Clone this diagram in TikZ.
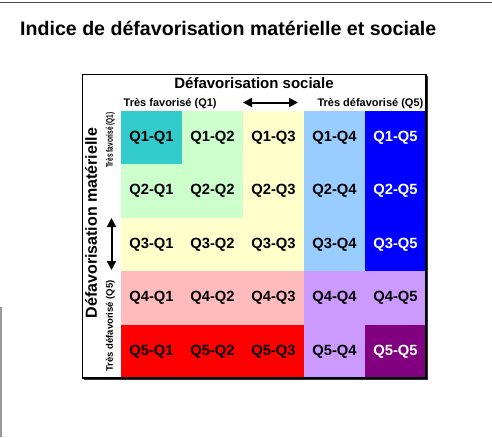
\documentclass[tikz,border=0pt]{standalone}
\usepackage{fontspec}
\setmainfont{Liberation Sans}
\usetikzlibrary{arrows.meta}
\definecolor{cteal}{HTML}{33CCCC}
\definecolor{cgreen}{HTML}{CCFFCC}
\definecolor{cyellow}{HTML}{FFFFCC}
\definecolor{clblue}{HTML}{99CCFF}
\definecolor{cblue}{HTML}{0000FF}
\definecolor{cpink}{HTML}{FFBBBB}
\definecolor{clav}{HTML}{CC99FF}
\definecolor{cred}{HTML}{FF0000}
\definecolor{cpurple}{HTML}{800080}
\tikzset{
  cell/.style={minimum width=61pt, minimum height=53.4pt, inner sep=0pt, outer sep=0pt,
    font=\fontsize{14.8}{16}\bfseries\selectfont, text=black},
  wcell/.style={cell, text=white},
  dblarrow/.style={line width=2pt, {Triangle[length=9pt,width=9pt]}-{Triangle[length=9pt,width=9pt]}},
  small/.style={font=\fontsize{11}{12}\bfseries\selectfont, inner sep=0pt},
}
\begin{document}
\begin{tikzpicture}[x=1pt,y=-1pt]
\useasboundingbox (0,0) rectangle (492,437);
\fill[white] (0,0) rectangle (492,437);
% decorative lines
\draw[line width=1.5pt, black!70] (0,2.5) -- (492,2.5);
\draw[line width=1.5pt, black!40] (1,307) -- (1,437);
% title
\node[anchor=base west, inner sep=0pt, font=\fontsize{19.6}{22}\bfseries\selectfont] (title) at (20,35.7) {Indice de défavorisation matérielle et sociale};
% cells
\node[cell, fill=cteal]   (c11) at (151.5,137.7) {Q1-Q1};
\node[cell, fill=cgreen]  (c12) at (212.5,137.7) {Q1-Q2};
\node[cell, fill=cyellow] (c13) at (273.5,137.7) {Q1-Q3};
\node[cell, fill=clblue]  (c14) at (334.5,137.7) {Q1-Q4};
\node[wcell, fill=cblue]  (c15) at (395.5,137.7) {Q1-Q5};
\node[cell, fill=cgreen]  (c21) at (151.5,191.1) {Q2-Q1};
\node[cell, fill=cgreen]  (c22) at (212.5,191.1) {Q2-Q2};
\node[cell, fill=cyellow] (c23) at (273.5,191.1) {Q2-Q3};
\node[cell, fill=clblue]  (c24) at (334.5,191.1) {Q2-Q4};
\node[wcell, fill=cblue]  (c25) at (395.5,191.1) {Q2-Q5};
\node[cell, fill=cyellow] (c31) at (151.5,244.5) {Q3-Q1};
\node[cell, fill=cyellow] (c32) at (212.5,244.5) {Q3-Q2};
\node[cell, fill=cyellow] (c33) at (273.5,244.5) {Q3-Q3};
\node[cell, fill=clblue]  (c34) at (334.5,244.5) {Q3-Q4};
\node[wcell, fill=cblue]  (c35) at (395.5,244.5) {Q3-Q5};
\node[cell, fill=cpink]   (c41) at (151.5,297.9) {Q4-Q1};
\node[cell, fill=cpink]   (c42) at (212.5,297.9) {Q4-Q2};
\node[cell, fill=cpink]   (c43) at (273.5,297.9) {Q4-Q3};
\node[cell, fill=clav]    (c44) at (334.5,297.9) {Q4-Q4};
\node[cell, fill=clav]    (c45) at (395.5,297.9) {Q4-Q5};
\node[cell, fill=cred]    (c51) at (151.5,351.3) {Q5-Q1};
\node[cell, fill=cred]    (c52) at (212.5,351.3) {Q5-Q2};
\node[cell, fill=cred]    (c53) at (273.5,351.3) {Q5-Q3};
\node[cell, fill=clav]    (c54) at (334.5,351.3) {Q5-Q4};
\node[wcell, fill=cpurple](c55) at (395.5,351.3) {Q5-Q5};
% frame
\draw[line width=1.3pt] (82.5,74.5) rectangle (426,378);
\draw[line width=1pt, black!80] (427,75.5) -- (427,379) -- (83.5,379);
% headers
\node[font=\fontsize{15}{17}\bfseries\selectfont, anchor=base, inner sep=0pt] (hsoc) at (254,88.3) {Défavorisation sociale};
\node[small, anchor=base west] (hq1) at (123.5,106.7) {Très favorisé (Q1)};
\node[small, anchor=base east] (hq5) at (423.5,106.7) {Très défavorisé (Q5)};
\coordinate (hl) at (243,102.5);
\coordinate (hr) at (298,102.5);
\draw[dblarrow] (hl) -- (hr);
% left side
\node[font=\fontsize{16}{18}\bfseries\selectfont, rotate=90, inner sep=0pt] (vmat) at (91,223) {Défavorisation matérielle};
\node[font=\fontsize{9.5}{11}\bfseries\selectfont, rotate=90, inner sep=0pt] (vq1) at (110.5,140) {\scalebox{0.69}[1]{Très favorisé (Q1)}};
\node[font=\fontsize{9.5}{11}\bfseries\selectfont, rotate=90, inner sep=0pt] (vq5) at (110.5,326) {Très défavorisé (Q5)};
\coordinate (vt) at (111.5,218);
\coordinate (vb) at (111.5,270);
\draw[dblarrow] (vt) -- (vb);
\end{tikzpicture}
\end{document}
